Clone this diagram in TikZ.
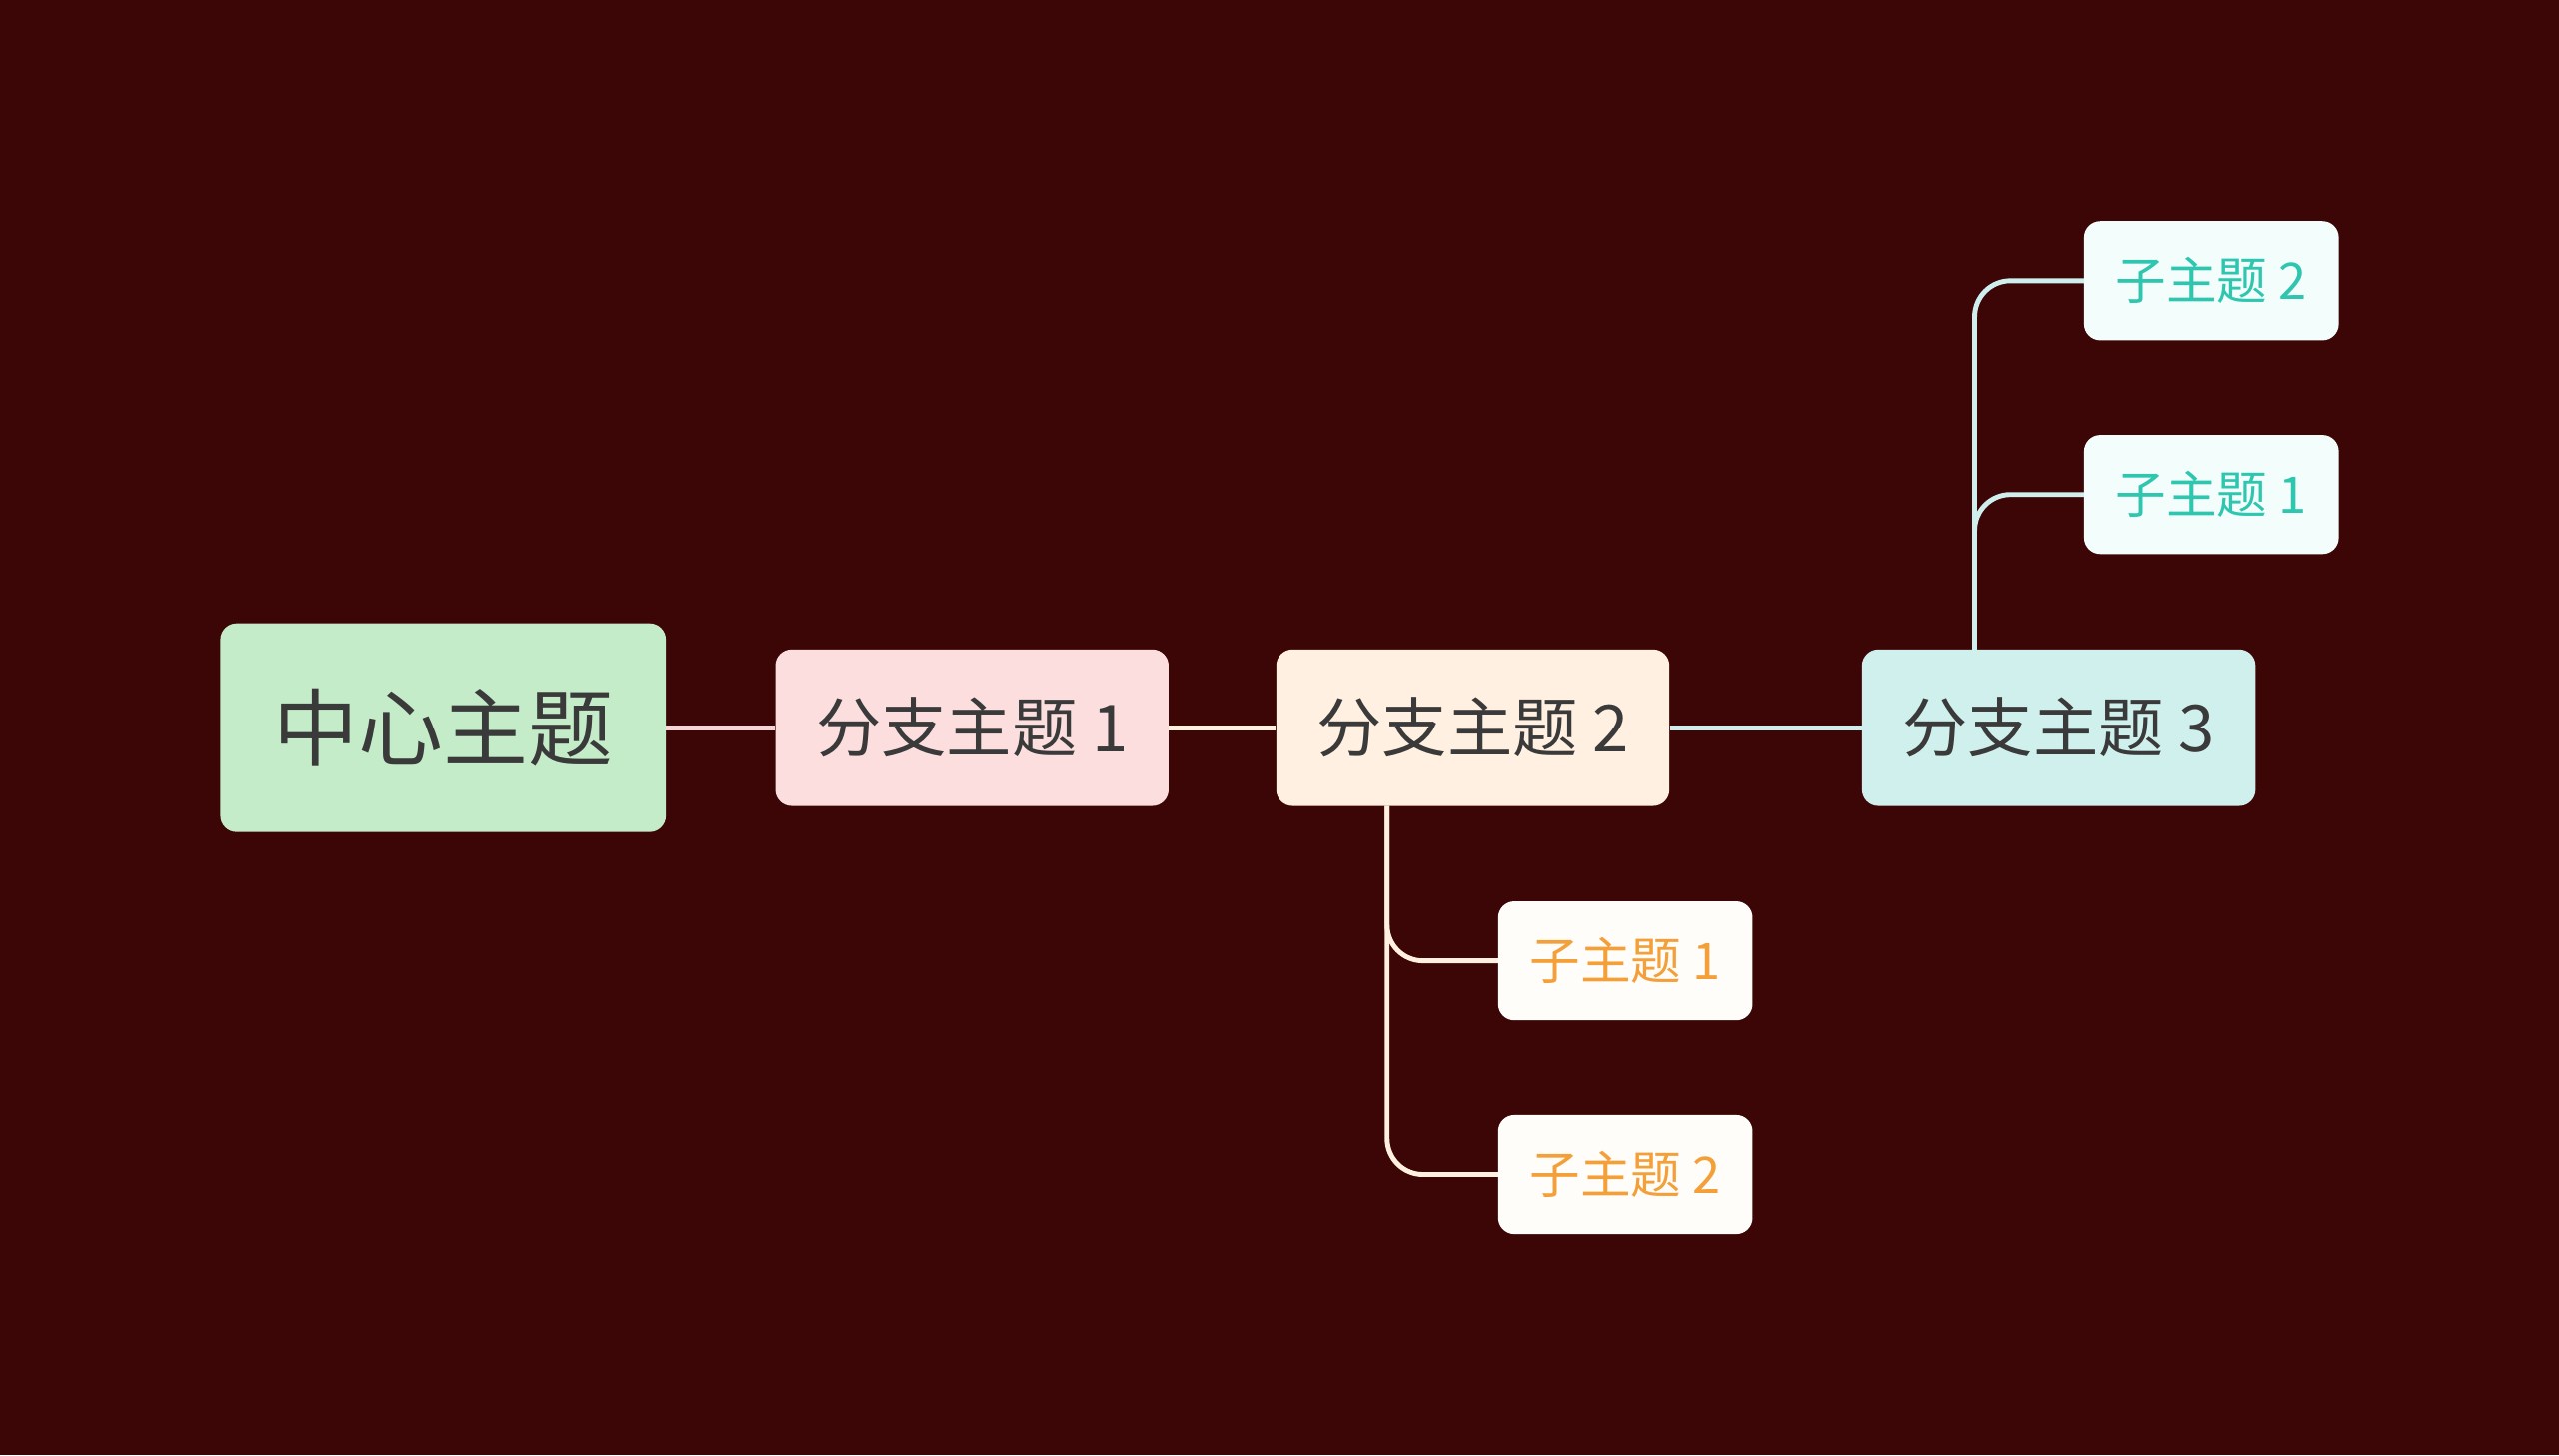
\documentclass[tikz,border=0pt]{standalone}
\usepackage{fontspec}
\newfontfamily\cjk{Noto Sans CJK SC}
\definecolor{bg}{HTML}{3C0606}
\definecolor{cfill}{HTML}{C5ECC9}
\definecolor{b1fill}{HTML}{FDDEDF}
\definecolor{b2fill}{HTML}{FFF0E1}
\definecolor{b3fill}{HTML}{CFF0EC}
\definecolor{txt}{HTML}{3A3A3A}
\definecolor{orng}{HTML}{F4A03A}
\definecolor{teal}{HTML}{2FC6B0}
\definecolor{subo}{HTML}{FFFDF9}
\definecolor{subt}{HTML}{F3FDFC}
\definecolor{l1}{HTML}{F5D6D6}
\definecolor{l2}{HTML}{FFF0E0}
\definecolor{l3}{HTML}{CFEFEF}
\begin{document}
\begin{tikzpicture}[x=1pt,y=-1pt,
  box/.style={rounded corners=10pt,inner sep=0pt,text=txt},
  conn/.style={line width=3pt,rounded corners=22pt}]
\fill[bg] (0,0) rectangle (1568,892);
\useasboundingbox (0,0) rectangle (1568,892);
% connectors first
\coordinate (b2d) at (850,494);
\coordinate (b3u) at (1210,398);
\draw[conn,l2] (b2d) |- (918,589);
\draw[conn,l2] (b2d) |- (918,720);
\draw[conn,l3] (b3u) |- (1277,303);
\draw[conn,l3] (b3u) |- (1277,172);
\node[box,fill=cfill,minimum width=273pt,minimum height=128pt,font=\cjk\fontsize{52}{60}\selectfont] (c) at (271.5,446) {中心主题};
\node[box,fill=b1fill,minimum width=241pt,minimum height=96pt,font=\cjk\fontsize{40}{48}\selectfont] (b1) at (595.5,446) {分支主题 1};
\node[box,fill=b2fill,minimum width=241pt,minimum height=96pt,font=\cjk\fontsize{40}{48}\selectfont] (b2) at (902.5,446) {分支主题 2};
\node[box,fill=b3fill,minimum width=241pt,minimum height=96pt,font=\cjk\fontsize{40}{48}\selectfont] (b3) at (1261.5,446) {分支主题 3};
\node[box,fill=subo,text=orng,minimum width=156pt,minimum height=73pt,font=\cjk\fontsize{31}{36}\selectfont] (o1) at (996,589) {子主题 1};
\node[box,fill=subo,text=orng,minimum width=156pt,minimum height=73pt,font=\cjk\fontsize{31}{36}\selectfont] (o2) at (996,720) {子主题 2};
\node[box,fill=subt,text=teal,minimum width=156pt,minimum height=73pt,font=\cjk\fontsize{31}{36}\selectfont] (t1) at (1355,303) {子主题 1};
\node[box,fill=subt,text=teal,minimum width=156pt,minimum height=73pt,font=\cjk\fontsize{31}{36}\selectfont] (t2) at (1355,172) {子主题 2};
\draw[line width=3pt,l1] (c.east) -- (b1.west);
\draw[line width=3pt,l2] (b1.east) -- (b2.west);
\draw[line width=3pt,l3] (b2.east) -- (b3.west);
\end{tikzpicture}
\end{document}
